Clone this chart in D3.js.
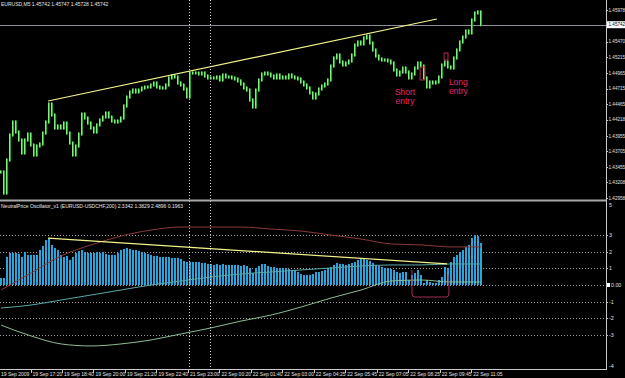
<!DOCTYPE html>
<html><head><meta charset="utf-8">
<script src="https://cdn.jsdelivr.net/npm/d3@7"></script>
<style>html,body{margin:0;padding:0;background:#000;overflow:hidden}svg{display:block}text{font-family:"Liberation Sans",Arial,sans-serif}</style>
</head><body><svg id="c" width="625" height="378"></svg>
<script>
// ---------- DATA ----------
const symbolTitle = "EURUSD,M5  1.45742 1.45747 1.45728 1.45742";
const oscTitle = "NeutralPrice Oscillator_v1 (EURUSD-USDCHF,200)  2.3342  1.3829  2.4896  0.1963";
const priceClose = [
1.43376,1.43038,1.43568,1.43970,1.44179,1.44018,1.43890,1.43681,1.43890,1.43986,
1.43809,1.43649,1.43793,1.43825,1.44002,1.44179,1.44468,1.44291,1.44082,1.44115,
1.44082,1.44163,1.44002,1.43841,1.43649,1.43793,1.43986,1.44307,1.44243,1.44163,
1.44082,1.44018,1.44131,1.44211,1.44259,1.44323,1.44259,1.44195,1.44179,1.44195,
1.44243,1.44436,1.44580,1.44661,1.44693,1.44661,1.44693,1.44725,1.44741,1.44741,
1.44773,1.44805,1.44741,1.44725,1.44725,1.44773,1.44886,1.44918,1.44902,1.44805,
1.44773,1.44709,1.44580,1.44966,1.44966,1.44966,1.44950,1.44966,1.44918,1.44886,
1.44886,1.44886,1.44902,1.44854,1.44934,1.44902,1.44902,1.44886,1.44870,1.44838,
1.44789,1.44725,1.44693,1.44532,1.44420,1.44693,1.44854,1.44950,1.44966,1.44950,
1.44918,1.44886,1.44934,1.44886,1.44902,1.44886,1.44934,1.44902,1.44886,1.44870,
1.44821,1.44773,1.44725,1.44645,1.44564,1.44629,1.44709,1.44757,1.44789,1.44854,
1.45078,1.45207,1.45255,1.45143,1.45094,1.45127,1.45159,1.45255,1.45416,1.45464,
1.45432,1.45528,1.45560,1.45448,1.45336,1.45239,1.45191,1.45175,1.45175,1.45159,
1.45127,1.45014,1.44934,1.44982,1.45046,1.44982,1.44886,1.44950,1.45046,1.45127,
1.45078,1.44886,1.44741,1.44821,1.44805,1.44821,1.44902,1.45094,1.45143,1.45062,
1.45046,1.45207,1.45336,1.45464,1.45544,1.45641,1.45609,1.45817,1.45930,1.45946,
1.45742];
const oscHist = [
0.42,0.42,1.68,1.92,1.92,1.92,1.86,1.68,1.98,1.80,
1.80,1.80,1.80,2.10,2.34,2.69,2.81,2.40,2.22,2.10,
1.80,1.68,1.74,1.50,1.68,1.92,2.04,2.10,1.98,1.92,
1.92,1.92,1.98,1.92,1.98,1.86,1.80,1.80,1.80,1.92,
2.10,2.16,2.22,2.16,2.10,2.10,2.04,1.98,1.92,1.86,
1.80,1.74,1.74,1.68,1.68,1.68,1.68,1.62,1.62,1.62,
1.56,1.44,1.38,1.38,1.38,1.38,1.38,1.32,1.32,1.26,
1.26,1.20,1.26,1.20,1.26,1.20,1.20,1.20,1.20,1.20,
1.14,1.20,1.14,1.02,0.72,1.02,1.14,1.26,1.26,1.14,
1.08,1.08,1.02,1.02,1.02,1.02,0.96,0.90,0.90,0.78,
0.66,0.60,0.60,0.60,0.66,0.78,0.78,0.84,0.90,1.02,
1.08,1.20,1.32,1.26,1.26,1.20,1.26,1.32,1.38,1.50,
1.56,1.56,1.50,1.44,1.32,1.20,1.14,1.08,1.02,1.02,
0.96,0.90,0.78,0.72,0.78,0.78,0.30,0.60,0.72,0.90,
0.60,0.12,0.30,0.18,0.12,0.12,0.30,0.48,1.08,1.02,
1.38,1.68,1.80,1.98,2.10,2.28,2.40,2.81,2.99,2.93,
2.51];
// smooth indicator lines, one value every 10 samples
const lineStep = 10;
const oscMaroon = [-0.30,0.72,1.74,2.40,2.93,3.29,3.47,3.47,3.47,3.35,3.23,2.99,2.75,2.46,2.40,2.28,2.28];
const oscTeal   = [-1.38,-1.20,-0.90,-0.60,-0.30,0.00,0.24,0.48,0.66,0.78,0.90,1.02,1.14,1.20,1.20,1.26,1.26];
const oscSage   = [-2.40,-3.05,-3.53,-3.65,-3.53,-3.29,-2.93,-2.57,-2.16,-1.80,-1.32,-0.78,-0.30,0.24,0.30,0.18,0.18];
// trend lines [sampleIndex, value]
const priceTrend = [[15.7,1.44516],[145.3,1.45833]];
const oscTrend = [[15.7,2.81],[148.7,1.26]];
const priceTicks = [1.45978,1.45470,1.45215,1.44965,1.44715,1.44465,1.44218,1.43955,1.43705,1.43455,1.43208,1.42958];
const currentPrice = 1.45742;
const oscLevels = [3,2,1,0,-1,-2,-3];
const oscLabels = ["3","2","1","0.00","-1","-2","-3"];
const oscEdge = [["5",4.8],["-4",-4.85]];
const timeLabels = ["19 Sep 2009","19 Sep 17:20","19 Sep 18:40","19 Sep 20:00","19 Sep 21:20","19 Sep 22:40","21 Sep 23:00","22 Sep 00:20","22 Sep 01:40","22 Sep 03:00","22 Sep 04:25","22 Sep 05:45","22 Sep 07:05","22 Sep 08:25","22 Sep 09:45","22 Sep 11:05"];
const timeBars = [-1,15,31,47,63,79,95,111,127,143,159,175,191,207,223,239];
const separatorBars = [95.5,106.3];
const priceBoxes = [[139.7,141.3,1.45062,1.44854],[147.7,149.0,1.45287,1.45175]];
const oscBracket = [137,149.3,0.90,-0.72];
const notes = [["Short",131.3,1.44613],["entry",131.5,1.44468],["Long",149.3,1.44773],["entry",149.3,1.44629]];

// ---------- SCALES ----------
const svg = d3.select("#c");
const R = 606;
const xs = d3.scaleLinear().domain([0,160]).range([1,481]);
const xb = d3.scaleLinear().domain([0,245]).range([1,483]);
const yP = d3.scaleLinear().domain([1.42958,1.45978]).range([198,10]);
const yO = d3.scaleLinear().domain([-5,5]).range([368.5,201.5]);

svg.append("rect").attr("width",625).attr("height",378).attr("fill","#000");
const defs = svg.append("defs");
defs.append("clipPath").attr("id","cp").append("rect").attr("x",0).attr("y",0).attr("width",R).attr("height",199);
defs.append("clipPath").attr("id","co").append("rect").attr("x",0).attr("y",202).attr("width",R).attr("height",167);

// ---------- PRICE PANEL ----------
const gp = svg.append("g").attr("clip-path","url(#cp)");
gp.append("line").attr("x1",0).attr("x2",R).attr("y1",Math.round(yP(currentPrice))+0.5).attr("y2",Math.round(yP(currentPrice))+0.5).attr("stroke","#8c8c9a").attr("stroke-width",1);
const openOf = (d,i)=> i ? priceClose[i-1] : d;
gp.selectAll("rect.bar").data(priceClose).join("rect").attr("class","bar")
  .attr("x",(d,i)=>xs(i)-0.5).attr("width",1.6)
  .attr("y",(d,i)=>yP(Math.max(openOf(d,i),d))-1.5)
  .attr("height",(d,i)=>Math.abs(yP(openOf(d,i))-yP(d))+3)
  .attr("fill","#2f9f2f");
gp.selectAll("line.hl").data(priceClose).join("line").attr("class","hl")
  .attr("x1",(d,i)=>xs(i)-0.5).attr("x2",(d,i)=>xs(i)-0.5)
  .attr("y1",(d,i)=>yP(Math.max(openOf(d,i),d))-1.5)
  .attr("y2",(d,i)=>yP(Math.min(openOf(d,i),d))+1.5)
  .attr("stroke","#7ef07e").attr("stroke-width",1);
gp.append("path").datum(priceTrend).attr("d",d3.line().x(d=>xs(d[0])).y(d=>yP(d[1])))
  .attr("stroke","#f4f48c").attr("stroke-width",1.2).attr("fill","none");
gp.selectAll("rect.box").data(priceBoxes).join("rect").attr("class","box")
  .attr("x",d=>xs(d[0])).attr("width",d=>xs(d[1])-xs(d[0]))
  .attr("y",d=>yP(d[2])).attr("height",d=>yP(d[3])-yP(d[2]))
  .attr("fill","none").attr("stroke","#b03050").attr("stroke-width",1);
gp.selectAll("text.note").data(notes).join("text").attr("class","note")
  .attr("x",d=>xs(d[1])).attr("y",d=>yP(d[2])).text(d=>d[0])
  .attr("fill","#e02a6c").attr("font-size","8.5px");
svg.append("text").attr("x",1).attr("y",6).text(symbolTitle).attr("fill","#e8e8e8").attr("font-size","5px");

// ---------- OSCILLATOR PANEL ----------
const go = svg.append("g").attr("clip-path","url(#co)");
go.selectAll("line.lv").data(oscLevels).join("line").attr("class","lv")
  .attr("x1",0).attr("x2",R).attr("y1",d=>Math.round(yO(d))+0.5).attr("y2",d=>Math.round(yO(d))+0.5)
  .attr("stroke","#a0a0a0").attr("stroke-dasharray","1,2").attr("stroke-width",1);
go.selectAll("rect.h").data(oscHist).join("rect").attr("class","h")
  .attr("x",(d,i)=>xs(i)-1).attr("width",2)
  .attr("y",d=>yO(Math.max(0,d))).attr("height",d=>Math.abs(yO(d)-yO(0)))
  .attr("fill","#2ba4dc");
const ln = d3.line().x((d,i)=>xs(i*lineStep)).y(d=>yO(d)).curve(d3.curveMonotoneX);
go.append("path").datum(oscMaroon).attr("d",ln).attr("stroke","#8a3a3a").attr("fill","none").attr("stroke-width",1);
go.append("path").datum(oscTeal).attr("d",ln).attr("stroke","#5aa8a8").attr("fill","none").attr("stroke-width",1);
go.append("path").datum(oscSage).attr("d",ln).attr("stroke","#8cbc94").attr("fill","none").attr("stroke-width",1);
go.append("path").datum(oscTrend).attr("d",d3.line().x(d=>xs(d[0])).y(d=>yO(d[1])))
  .attr("stroke","#f4f48c").attr("stroke-width",1.2).attr("fill","none");
{
  const [a,b,t,btm]=oscBracket, x0=xs(a), x1=xs(b), y0=yO(t), y1=yO(btm), r=3;
  go.append("path").attr("d",`M${x0},${y0}V${y1-r}Q${x0},${y1} ${x0+r},${y1}H${x1-r}Q${x1},${y1} ${x1},${y1-r}V${y0+5}`)
    .attr("fill","none").attr("stroke","#a03050").attr("stroke-width",1);
}
svg.append("text").attr("x",1).attr("y",208).text(oscTitle).attr("fill","#e8e8e8").attr("font-size","5px");

// ---------- FRAME / SEPARATORS ----------
svg.selectAll("line.sep").data(separatorBars).join("line").attr("class","sep")
  .attr("x1",d=>Math.round(xb(d))+0.5).attr("x2",d=>Math.round(xb(d))+0.5).attr("y1",0).attr("y2",369)
  .attr("stroke","#d0d0d0").attr("stroke-dasharray","1,2").attr("stroke-width",1);
svg.append("line").attr("x1",0).attr("x2",R+1).attr("y1",200.5).attr("y2",200.5).attr("stroke","#a8a8a8").attr("stroke-width",2);
svg.append("line").attr("x1",R+0.5).attr("x2",R+0.5).attr("y1",0).attr("y2",370).attr("stroke","#c8c8c8");
svg.append("line").attr("x1",0).attr("x2",R+1).attr("y1",369.5).attr("y2",369.5).attr("stroke","#c8c8c8");

// price axis
const fs = "4.6px";
const pa = svg.append("g");
pa.selectAll("line").data(priceTicks).join("line").attr("x1",R).attr("x2",R+2)
  .attr("y1",d=>Math.round(yP(d))+0.5).attr("y2",d=>Math.round(yP(d))+0.5).attr("stroke","#c8c8c8");
pa.selectAll("text").data(priceTicks).join("text").attr("x",R+2.5).attr("y",d=>yP(d)+1.8)
  .text(d=>d.toFixed(5)).attr("fill","#e0e0e0").attr("font-size",fs);
pa.append("rect").attr("x",R+1).attr("y",yP(currentPrice)-3.5).attr("width",18).attr("height",7).attr("fill","#fff");
pa.append("text").attr("x",R+2.5).attr("y",yP(currentPrice)+1.8).text(currentPrice.toFixed(5)).attr("fill","#000").attr("font-size",fs);

// osc axis
const oa = svg.append("g");
oa.selectAll("line").data(oscLevels).join("line").attr("x1",R).attr("x2",R+2)
  .attr("y1",d=>Math.round(yO(d))+0.5).attr("y2",d=>Math.round(yO(d))+0.5).attr("stroke","#c8c8c8");
oa.selectAll("text.l").data(oscLevels).join("text").attr("class","l").attr("x",d=>d===0?R+5:R+3).attr("y",d=>yO(d)+2)
  .text((d,i)=>oscLabels[i]).attr("fill","#e0e0e0").attr("font-size","5.3px");
oa.append("rect").attr("x",R+1).attr("y",yO(0)-2).attr("width",3).attr("height",4).attr("fill","#fff");
oa.selectAll("text.e").data(oscEdge).join("text").attr("class","e").attr("x",R+3).attr("y",d=>yO(d[1])+2)
  .text(d=>d[0]).attr("fill","#e0e0e0").attr("font-size","5.3px");

// time axis
const ta = svg.append("g");
ta.selectAll("line").data(timeBars.slice(1)).join("line").attr("x1",d=>Math.round(xb(d))+0.5).attr("x2",d=>Math.round(xb(d))+0.5)
  .attr("y1",369).attr("y2",373).attr("stroke","#c8c8c8");
ta.selectAll("text").data(timeLabels).join("text").attr("x",(d,i)=>Math.max(0.5,xb(timeBars[i])+2)).attr("y",376)
  .text(d=>d).attr("fill","#e0e0e0").attr("font-size","5px");
</script></body></html>
